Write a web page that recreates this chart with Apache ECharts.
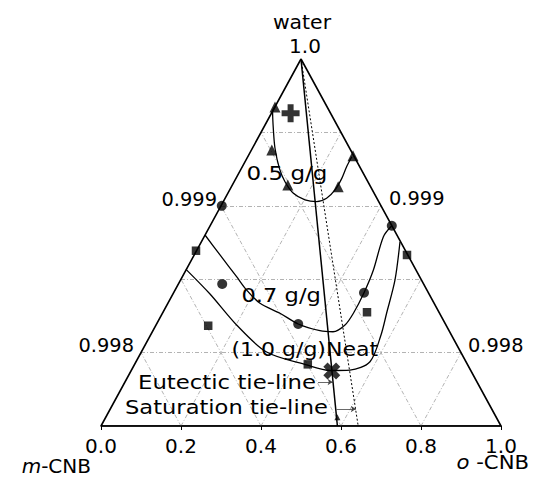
<!DOCTYPE html>
<html>
<head>
<meta charset="utf-8">
<script src="https://cdn.jsdelivr.net/npm/echarts@6/dist/echarts.min.js"></script>
<style>html,body{margin:0;padding:0;background:#fff}#c{width:538px;height:478px}</style>
</head>
<body>
<div id="c"></div>
<script>
// ---- Data (x = position on the 0..1 base scale, y = water mass fraction) ----
const xTicks = [0.0, 0.2, 0.4, 0.6, 0.8, 1.0];
const gridTicks = [0.2, 0.4, 0.6, 0.8];
const waterLevels = [0.9995, 0.999, 0.9985, 0.998];
const W_MIN = 0.9975, W_MAX = 1.0;

const tri05 = [[0.435,0.999673],[0.427,0.99938],[0.467,0.999142],[0.593,0.99913],[0.630,0.999341]];
const plus05 = [[0.474,0.99963]];
const circ07 = [[0.302,0.999],[0.727,0.998864],[0.6575,0.998408],[0.493,0.998195],[0.303,0.998467]];
const sq10 = [[0.2375,0.998694],[0.765,0.998665],[0.665,0.998275],[0.268,0.998183],[0.517,0.99792]];
const xNeat = [[0.577,0.997875]];

const curve05 = [[0.435,0.999673],[0.429,0.999641],[0.431,0.999516],[0.435,0.999392],[0.446,0.999255],[0.46,0.999164],[0.481,0.999085],[0.51,0.99904],[0.539,0.999028],[0.564,0.999051],[0.585,0.999108],[0.602,0.999187],[0.614,0.999266],[0.627,0.999334]];
const curve07 = [[0.26,0.998801],[0.2975,0.998665],[0.339,0.998517],[0.364,0.998426],[0.3975,0.998336],[0.4475,0.998268],[0.493,0.998195],[0.5475,0.998149],[0.58,0.998142],[0.61,0.998188],[0.631,0.998268],[0.6575,0.998408],[0.681,0.998563],[0.706,0.99879],[0.727,0.998864]];
const curve10 = [[0.2125,0.998567],[0.2725,0.998399],[0.339,0.998188],[0.414,0.998004],[0.514,0.997916],[0.5725,0.997878],[0.6225,0.997881],[0.6725,0.997938],[0.70,0.99812],[0.714,0.998268],[0.735,0.998495],[0.7475,0.998755]];

const eutecticTie = [[0.5,1.0],[0.591,0.9975]];
const saturationTie = [[0.5,1.0],[0.643,0.9975]];
const eutecticArrow = [[0.5425,0.9978],[0.579,0.9978]];
const saturationArrow = [[0.589,0.997616],[0.637,0.997616]];
const tieFoot = [[0.591,0.99756]];

// ---- Derived geometry from the ternary frame ----
const frac = w => (w - W_MIN) / (W_MAX - W_MIN);
const outline = [[0, W_MIN],[0.5, W_MAX],[1, W_MIN],[0, W_MIN]];
const gridSegs = [];
waterLevels.forEach(w => { const f = frac(w); gridSegs.push({coords: [[0.5*f, w],[1-0.5*f, w]]}); });
gridTicks.forEach(t => {
  gridSegs.push({coords: [[t, W_MIN],[t/2, W_MIN + (W_MAX-W_MIN)*t]]});
  gridSegs.push({coords: [[t, W_MIN],[(1+t)/2, W_MIN + (W_MAX-W_MIN)*(1-t)]]});
});

const FONT = '"DejaVu Sans", "Liberation Sans", sans-serif';
const FS = 20;
function txt(text, x, y, align, sx, rich) {
  return {
    type: 'text', x: x, y: y, scaleX: sx || 1, scaleY: 1, originX: 0, originY: 0,
    style: { text: text, fill: '#000', fontSize: FS, fontFamily: FONT,
      align: align, verticalAlign: 'middle', textAlign: align, textVerticalAlign: 'middle', rich: rich },
    z: 100
  };
}
const ital = { i: { fontStyle: 'italic', fontSize: FS, fontFamily: FONT, fill: '#000' }, n: { fontSize: FS, fontFamily: FONT, fill: '#000' } };

const chart = echarts.init(document.getElementById('c'), null, { renderer: 'svg' });
const line = (data, style, extra) => Object.assign({ type: 'line', data: data, symbol: 'none', lineStyle: style, silent: true, animation: false }, extra || {});
const scat = (data, symbol, size, extra) => Object.assign({ type: 'scatter', data: data, symbol: symbol, symbolSize: size, itemStyle: { color: '#000' }, silent: true, animation: false }, extra || {});
const PLUS = 'path://M-1,-3H1V-1H3V1H1V3H-1V1H-3V-1H-1Z';

chart.setOption({
  animation: false,
  backgroundColor: '#fff',
  grid: { left: 101, right: 37, top: 59, bottom: 52, containLabel: false },
  xAxis: {
    type: 'value', min: 0, max: 1, interval: 0.2,
    axisLine: { show: true, lineStyle: { color: '#000', width: 1.5 } },
    axisTick: { show: true, length: 4, lineStyle: { color: '#000', width: 1 } },
    axisLabel: { color: '#000', fontSize: FS, fontFamily: FONT, margin: 10, formatter: v => v.toFixed(1) },
    splitLine: { show: false }
  },
  yAxis: { type: 'value', min: W_MIN, max: W_MAX, show: false, splitLine: { show: false } },
  series: [
    { type: 'lines', coordinateSystem: 'cartesian2d', data: gridSegs, silent: true, animation: false,
      lineStyle: { color: '#a0a0a0', width: 0.8, type: [4, 2, 1, 2], opacity: 1 } },
    line(outline, { color: '#000', width: 1.6 }),
    line(curve05, { color: '#000', width: 1.3 }, { smooth: 0.3 }),
    line(curve07, { color: '#000', width: 1.3 }, { smooth: 0.3 }),
    line(curve10, { color: '#000', width: 1.3 }, { smooth: 0.3 }),
    line(eutecticTie, { color: '#000', width: 1.5 }),
    line(saturationTie, { color: '#000', width: 1, type: [2, 2] }),
    { type: 'lines', coordinateSystem: 'cartesian2d', silent: true, animation: false,
      data: [{ coords: eutecticArrow }, { coords: saturationArrow }],
      symbol: ['none', 'arrow'], symbolSize: 5,
      lineStyle: { color: '#444', width: 0.8, opacity: 1 } },
    scat(tieFoot, 'triangle', 6),
    scat(tri05, 'triangle', 11),
    scat(plus05, PLUS, 18),
    scat(circ07, 'circle', 10),
    scat(sq10, 'rect', 8.5),
    scat(xNeat, PLUS, 18, { symbolRotate: 45 })
  ],
  graphic: [
    txt('water', 302, 22, 'center', 1.02),
    txt('1.0', 305, 46, 'center'),
    txt('0.999', 217, 199, 'right', 0.97),
    txt('0.999', 389, 198, 'left', 0.97),
    txt('0.998', 134, 345, 'right', 0.97),
    txt('0.998', 468, 345, 'left', 0.97),
    txt('0.5 g/g', 246.5, 173, 'left', 1.15),
    txt('0.7 g/g', 241.5, 295, 'left', 1.13),
    txt('(1.0 g/g)Neat', 231.5, 348.5, 'left', 1.1),
    txt('Eutectic tie-line', 138, 382, 'left', 1.14),
    txt('Saturation tie-line', 125, 407, 'left', 1.13),
    txt('{i|m}{n|-CNB}', 91, 466, 'right', 1.0, ital),
    txt('{i|o}{n| -CNB}', 456.5, 462, 'left', 1.06, ital)
  ]
});
</script>
</body>
</html>
